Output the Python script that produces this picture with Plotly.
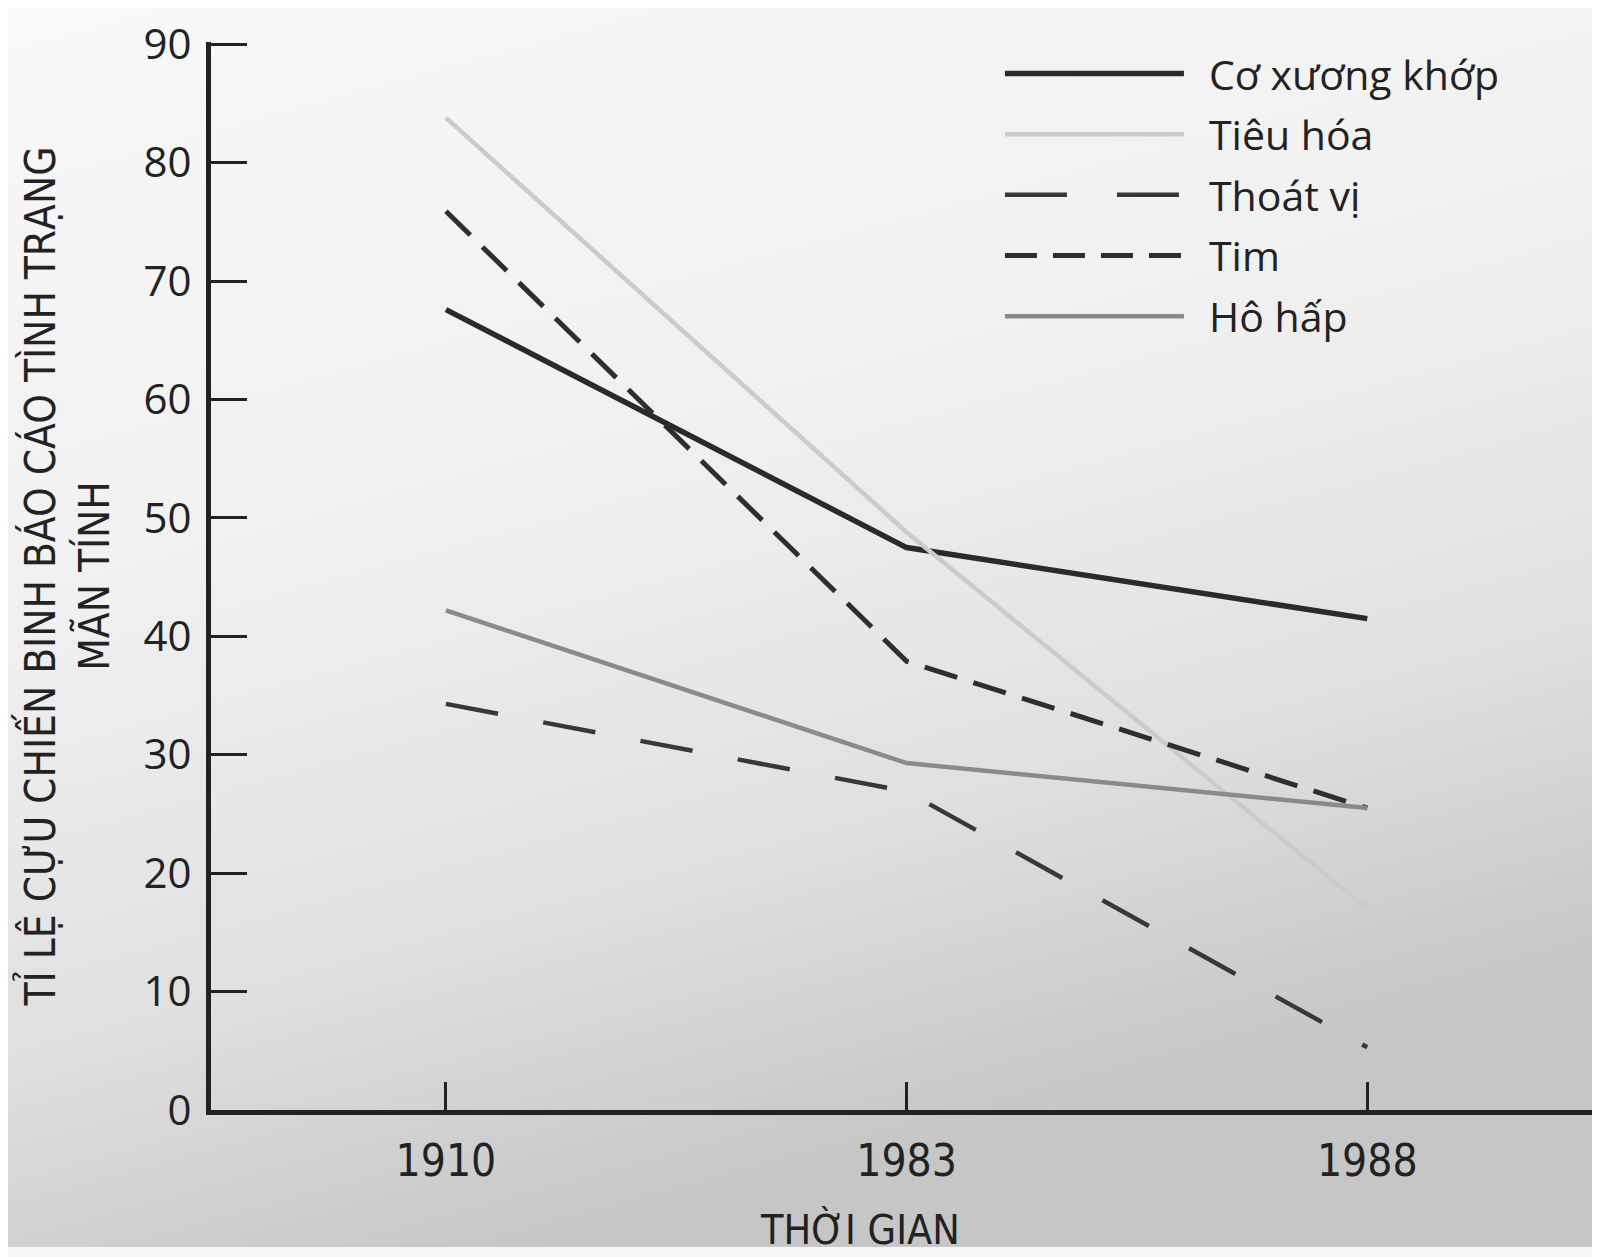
import plotly.graph_objects as go

# Data
years = ["1910", "1983", "1988"]
co_xuong_khop = [67.6, 47.5, 41.5]
tieu_hoa = [83.8, 48.8, 17.0]
thoat_vi = [34.3, 26.9, 5.3]
tim = [75.9, 37.9, 25.5]
ho_hap = [42.2, 29.3, 25.5]

names = ["Cơ xương khớp", "Tiêu hóa", "Thoát vị", "Tim", "Hô hấp"]
series = [co_xuong_khop, tieu_hoa, thoat_vi, tim, ho_hap]
colors = ["#2a2a2a", "#cbcbcb", "#383838", "#2e2e2e", "#8a8a8a"]
widths = [5.5, 4.5, 4.5, 5, 4.5]
dashes = ["solid", "solid", "53px,46px", "34px,17px", "solid"]
legend_dashes = ["solid", "solid", "62px,50px", "32px,16px", "solid"]

label_font = "Open Sans, Lato, sans-serif"
narrow_font = "Liberation Sans Narrow, DejaVu Sans Condensed, sans-serif"

# plot area in pixels of the figure
L, R, T, B = 203, 15, 34, 155
W, H = 1600, 1257
pw, ph = W - L - R, H - T - B

# soft grey gradient of the scanned page
grad = ("data:image/svg+xml;utf8,<svg xmlns='http://www.w3.org/2000/svg' width='100' height='100' preserveAspectRatio='none'>"
        "<defs><linearGradient id='g' x1='0' y1='0' x2='0.35' y2='1'>"
        "<stop offset='0' stop-color='%23f8f8f8'/><stop offset='0.45' stop-color='%23f0f0f0'/>"
        "<stop offset='0.75' stop-color='%23e0e0e0'/><stop offset='1' stop-color='%23c6c6c6'/>"
        "</linearGradient></defs><rect width='100' height='100' fill='url(%23g)'/></svg>")

fig = go.Figure()
for name, vals, c, w, d in zip(names, series, colors, widths, dashes):
    fig.add_trace(go.Scatter(
        x=years, y=vals, mode="lines", name=name,
        line=dict(color=c, width=w, dash=d),
        showlegend=False,
    ))

fig.add_layout_image(
    source=grad, xref="paper", yref="paper",
    x=-L / pw, y=1 + T / ph, sizex=(W - 15) / pw, sizey=(H - 18) / ph,
    sizing="stretch", layer="below", xanchor="left", yanchor="top",
)

# hand-drawn legend, like the printed figure
for i, (name, c, w, d) in enumerate(zip(names, colors, widths, legend_dashes)):
    yy = 0.9705 - i * 0.0568
    fig.add_shape(type="line", xref="paper", yref="paper",
                  x0=0.5745, x1=0.704, y0=yy, y1=yy,
                  line=dict(color=c, width=w, dash=d))
    fig.add_annotation(xref="paper", yref="paper", x=0.721, y=yy, text=name,
                       showarrow=False, xanchor="left", yanchor="middle",
                       font=dict(family=label_font, size=41, color="#222"))

fig.add_annotation(xref="paper", yref="paper", x=0.4696, y=-0.1124, text="THỜI GIAN",
                   showarrow=False, xanchor="center", yanchor="middle",
                   font=dict(family=narrow_font, size=41, color="#222"))

fig.update_layout(
    width=W, height=H,
    margin=dict(l=L, r=R, t=T, b=B),
    paper_bgcolor="#f6f6f6",
    plot_bgcolor="rgba(0,0,0,0)",
    xaxis=dict(
        type="category", range=[-0.51, 2.49],
        showgrid=False, zeroline=False, automargin=False,
        showline=True, linecolor="#222", linewidth=5,
        ticks="inside", ticklen=28, tickwidth=2.5, tickcolor="#222",
        ticklabelstandoff=8,
        tickfont=dict(family=narrow_font, size=44, color="#222"),
    ),
    yaxis=dict(
        range=[0, 90.2], tickvals=list(range(0, 91, 10)),
        showgrid=False, zeroline=False, automargin="left",
        showline=True, linecolor="#222", linewidth=5,
        ticks="inside", ticklen=36, tickwidth=2.5, tickcolor="#222",
        ticklabelstandoff=6, ticklabeloverflow="allow",
        tickfont=dict(family=label_font, size=42, color="#222"),
        title=dict(text="TỈ LỆ CỰU CHIẾN BINH BÁO CÁO TÌNH TRẠNG<br>MÃN TÍNH",
                   font=dict(family=narrow_font, size=42, color="#222"),
                   standoff=22),
    ),
)

fig.write_html("out.html")
